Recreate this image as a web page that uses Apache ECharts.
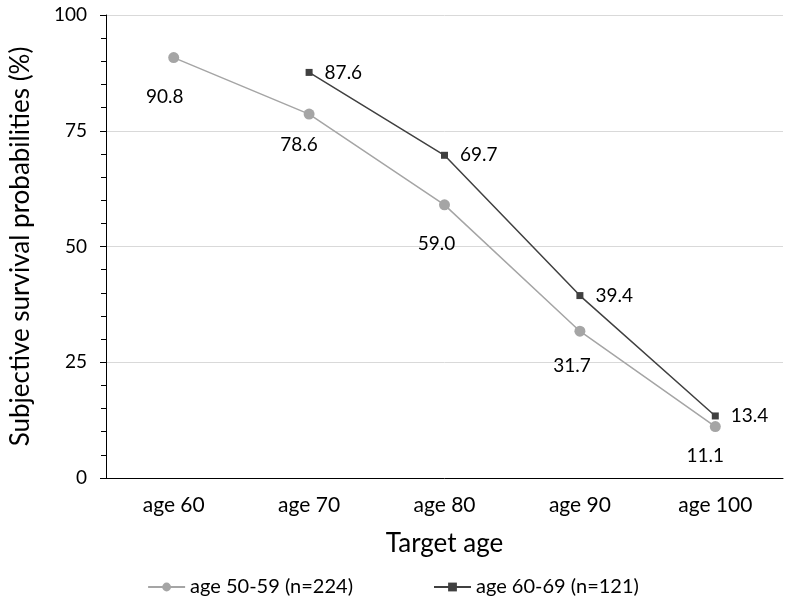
<!DOCTYPE html>
<html>
<head>
<meta charset="utf-8">
<script src="https://cdn.jsdelivr.net/npm/echarts@6/dist/echarts.min.js"></script>
<style>html,body{margin:0;padding:0;background:#fff}#c{width:786px;height:604px}</style>
</head>
<body>
<div id="c"></div>
<script>
const categories = ['age 60', 'age 70', 'age 80', 'age 90', 'age 100'];
const younger = [90.8, 78.6, 59.0, 31.7, 11.1];
const older = [null, 87.6, 69.7, 39.4, 13.4];
const youngerName = 'age 50-59 (n=224)';
const olderName = 'age 60-69 (n=121)';
const yTicks = [0, 25, 50, 75, 100];

const youngerLabelOffsets = [[-9, 39], [-10, 31], [-8, 39], [-8, 35], [-10, 29]];

const FONT = 'Lato';
const chart = echarts.init(document.getElementById('c'));
chart.setOption({
  animation: false,
  textStyle: { fontFamily: FONT },
  grid: { left: 103, right: 3, top: 15, bottom: 126, containLabel: false },
  legend: {
    bottom: 2,
    left: 'center',
    itemGap: 80,
    itemWidth: 37,
    itemHeight: 11,
    textStyle: { fontFamily: FONT, fontSize: 20, color: '#000' },
    data: [youngerName, olderName]
  },
  xAxis: {
    type: 'category',
    data: categories,
    boundaryGap: true,
    name: 'Target age',
    nameLocation: 'middle',
    nameGap: 53,
    nameTextStyle: { fontFamily: FONT, fontSize: 26, color: '#000' },
    axisLine: { lineStyle: { color: '#000', width: 1 } },
    axisTick: { alignWithLabel: true, length: 5, lineStyle: { color: '#000' } },
    axisLabel: { fontFamily: FONT, fontSize: 21, color: '#000', margin: 17 },
    splitLine: { show: false }
  },
  yAxis: {
    type: 'value',
    min: yTicks[0],
    max: yTicks[yTicks.length - 1],
    interval: 25,
    name: 'Subjective survival probabilities (%)',
    nameLocation: 'middle',
    nameGap: 72,
    nameTextStyle: { fontFamily: FONT, fontSize: 26, color: '#000' },
    axisLine: { show: true, lineStyle: { color: '#000', width: 1 } },
    axisTick: { show: true, length: 6, lineStyle: { color: '#000' } },
    minorTick: { show: true, splitNumber: 5, length: 5, lineStyle: { color: '#000' } },
    axisLabel: { fontFamily: FONT, fontSize: 19, color: '#000', margin: 19 },
    splitLine: { show: true, lineStyle: { color: '#d9d9d9', width: 1 } }
  },
  series: [
    {
      name: youngerName,
      type: 'line',
      data: younger.map((v, i) => ({
        value: v,
        label: { position: 'inside', offset: youngerLabelOffsets[i] }
      })),
      symbol: 'circle',
      symbolSize: 11,
      itemStyle: { color: '#a5a5a5' },
      lineStyle: { color: '#a5a5a5', width: 1.5 },
      label: {
        show: true,
        fontFamily: FONT,
        fontSize: 19,
        color: '#000',
        formatter: p => Number(p.value).toFixed(1)
      },
      z: 2
    },
    {
      name: olderName,
      type: 'line',
      data: older,
      symbol: 'rect',
      symbolSize: 7,
      connectNulls: false,
      itemStyle: { color: '#404040' },
      lineStyle: { color: '#404040', width: 1.5 },
      label: {
        show: true,
        position: 'right',
        distance: 12,
        fontFamily: FONT,
        fontSize: 19,
        color: '#000',
        formatter: p => Number(p.value).toFixed(1)
      },
      z: 3
    }
  ]
});
</script>
</body>
</html>
